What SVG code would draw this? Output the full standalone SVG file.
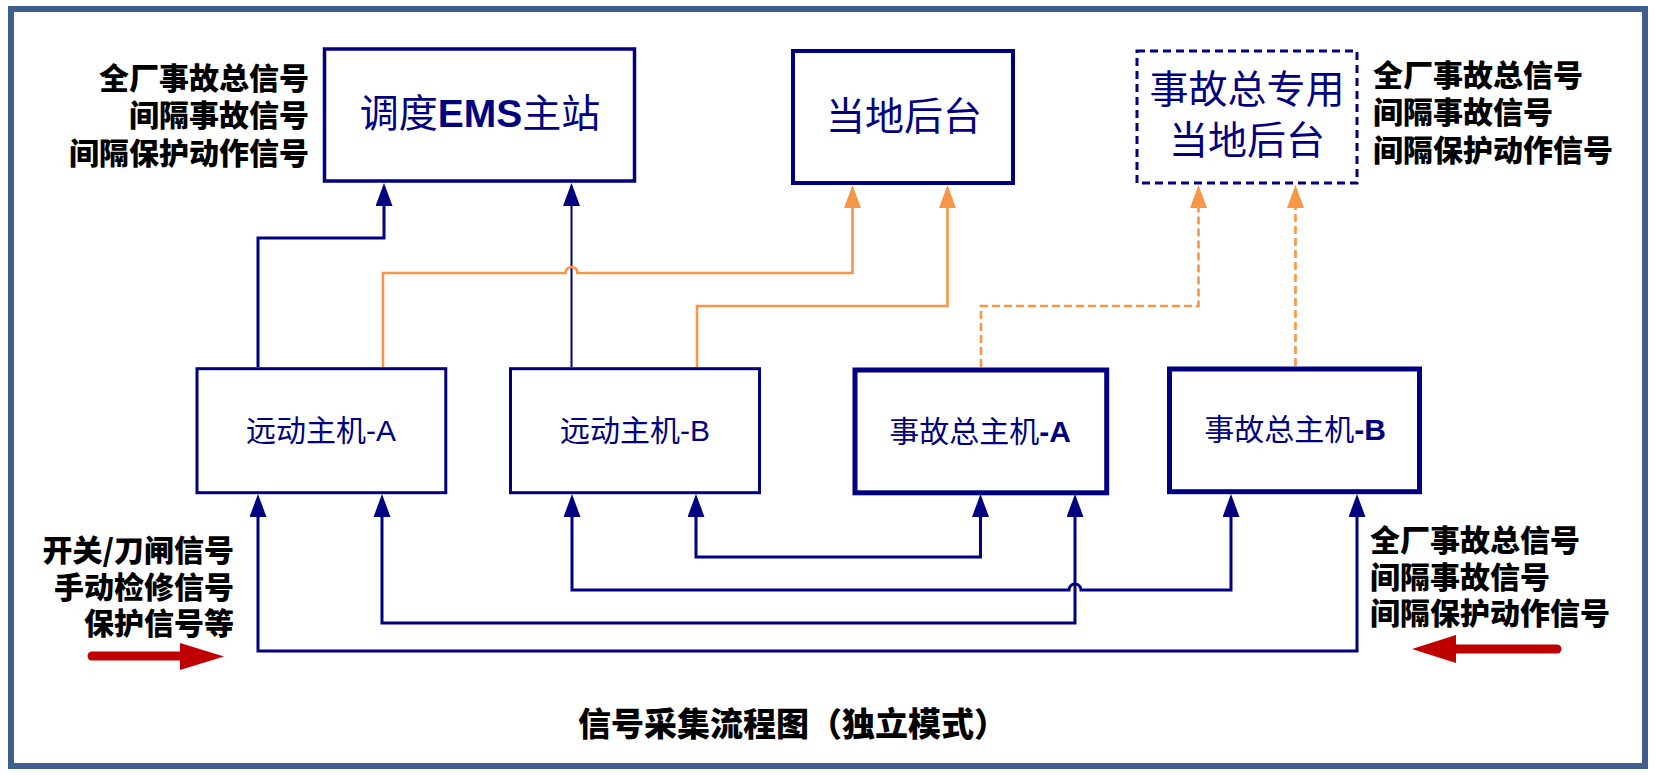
<svg xmlns="http://www.w3.org/2000/svg" width="1656" height="775" viewBox="0 0 1656 775">
<style>
.frame{fill:none;stroke:#3D5E8E;stroke-width:6}
.box{fill:#fff;stroke:#000080;stroke-width:3}
.boxb{fill:#fff;stroke:#000080;stroke-width:5}
.dbox{fill:#fff;stroke:#000080;stroke-width:3;stroke-dasharray:8 5}
.nt{font-family:"Noto Sans CJK SC","Liberation Sans",sans-serif;fill:#000080}
.lt{font-family:"Liberation Sans","Noto Sans CJK SC",sans-serif}
.lab{font-family:"Noto Sans CJK SC",sans-serif;font-weight:900;font-size:30px;fill:#000}
.ttl{font-family:"Noto Sans CJK SC",sans-serif;font-weight:900;font-size:33px;fill:#000}
.nv{fill:none;stroke:#000080;stroke-width:3}
.nv2{fill:none;stroke:#000080;stroke-width:2}
.or{fill:none;stroke:#F79646;stroke-width:2.6}
.ord{fill:none;stroke:#F79646;stroke-width:2.6;stroke-dasharray:8 4}
</style>
<defs>
<marker id="an" markerUnits="userSpaceOnUse" viewBox="0 0 23 17" markerWidth="23" markerHeight="17" refX="0" refY="8.5" orient="auto-start-reverse"><path d="M0,0L23,8.5L0,17z" fill="#000080"/></marker>
<marker id="ao" markerUnits="userSpaceOnUse" viewBox="0 0 23 17" markerWidth="23" markerHeight="17" refX="0" refY="8.5" orient="auto"><path d="M0,0L23,8.5L0,17z" fill="#F79646"/></marker>
</defs>
<rect x="0" y="0" width="1656" height="775" fill="#fff"/>
<rect class="frame" x="11" y="9" width="1634" height="757"/>

<g id="connectors">
<path class="nv" d="M258,367V238H384V206" marker-end="url(#an)"/>
<path class="nv2" d="M571.5,367V206" marker-end="url(#an)"/>
<path class="or" d="M383,367V273H565.5a6,6 0 0 1 12,0H852.5V208" marker-end="url(#ao)"/>
<path class="or" d="M697,367V306H947.5V208" marker-end="url(#ao)"/>
<path class="ord" d="M981,367V306H1198.5V208" marker-end="url(#ao)"/>
<path class="ord" d="M1295.5,366V208" marker-end="url(#ao)"/>
<path class="nv" d="M572,517V590H1069a6,6 0 0 1 12,0H1231V517" marker-start="url(#an)" marker-end="url(#an)"/>
<path class="nv" d="M696,517V557H980.5V517" marker-start="url(#an)" marker-end="url(#an)"/>
<path class="nv" d="M382,517V623H1075V517" marker-start="url(#an)" marker-end="url(#an)"/>
<path class="nv" d="M258,517V651H1357V517" marker-start="url(#an)" marker-end="url(#an)"/>
</g>

<g id="ems">
<rect x="324.5" y="49" width="310" height="132" fill="#fff" stroke="#000080" stroke-width="3.5"/>
<text class="nt" x="480" y="127" font-size="39" text-anchor="middle">调度<tspan class="lt" font-weight="bold">EMS</tspan>主站</text>
</g>
<g id="local">
<rect x="793" y="51" width="220" height="132" fill="#fff" stroke="#000080" stroke-width="4"/>
<text class="nt" x="904" y="130" font-size="39" text-anchor="middle">当地后台</text>
</g>
<g id="local2">
<rect class="dbox" x="1137" y="51" width="220" height="132"/>
<text class="nt" x="1247" y="103" font-size="39" text-anchor="middle">事故总专用</text>
<text class="nt" x="1247" y="154" font-size="39" text-anchor="middle">当地后台</text>
</g>
<g id="ydA">
<rect class="box" x="197" y="368.7" width="248.8" height="124"/>
<text class="nt" x="321" y="441" font-size="30" text-anchor="middle">远动主机<tspan class="lt">-A</tspan></text>
</g>
<g id="ydB">
<rect class="box" x="510.5" y="368.7" width="249" height="124"/>
<text class="nt" x="635" y="441" font-size="30" text-anchor="middle">远动主机<tspan class="lt">-B</tspan></text>
</g>
<g id="sgA">
<rect class="boxb" x="855" y="370" width="251.7" height="122.8"/>
<text class="nt" x="980" y="442" font-size="30" text-anchor="middle">事故总主机<tspan class="lt" font-weight="bold">-A</tspan></text>
</g>
<g id="sgB">
<rect class="boxb" x="1169.5" y="369" width="250" height="122.7"/>
<text class="nt" x="1295" y="440" font-size="30" text-anchor="middle">事故总主机<tspan class="lt" font-weight="bold">-B</tspan></text>
</g>

<g id="labels">
<text class="lab" text-anchor="end"><tspan x="309" y="89">全厂事故总信号</tspan><tspan x="309" y="126">间隔事故信号</tspan><tspan x="309" y="164">间隔保护动作信号</tspan></text>
<text class="lab"><tspan x="1373" y="86">全厂事故总信号</tspan><tspan x="1373" y="123">间隔事故信号</tspan><tspan x="1373" y="161">间隔保护动作信号</tspan></text>
<text class="lab" text-anchor="end"><tspan x="234" y="561">开关/刀闸信号</tspan><tspan x="234" y="598">手动检修信号</tspan><tspan x="234" y="634">保护信号等</tspan></text>
<text class="lab"><tspan x="1370" y="551">全厂事故总信号</tspan><tspan x="1370" y="588">间隔事故信号</tspan><tspan x="1370" y="624">间隔保护动作信号</tspan></text>
<text class="ttl" x="578" y="736">信号采集流程图（独立模式）</text>
</g>

<g id="redarrows">
<path d="M92,656H181" stroke="#C00000" stroke-width="9" stroke-linecap="round" fill="none"/>
<path d="M180,643L224,656.5L180,670z" fill="#C00000"/>
<path d="M1557,649H1455" stroke="#C00000" stroke-width="9" stroke-linecap="round" fill="none"/>
<path d="M1456,635L1412,649L1456,663z" fill="#C00000"/>
</g>
</svg>
